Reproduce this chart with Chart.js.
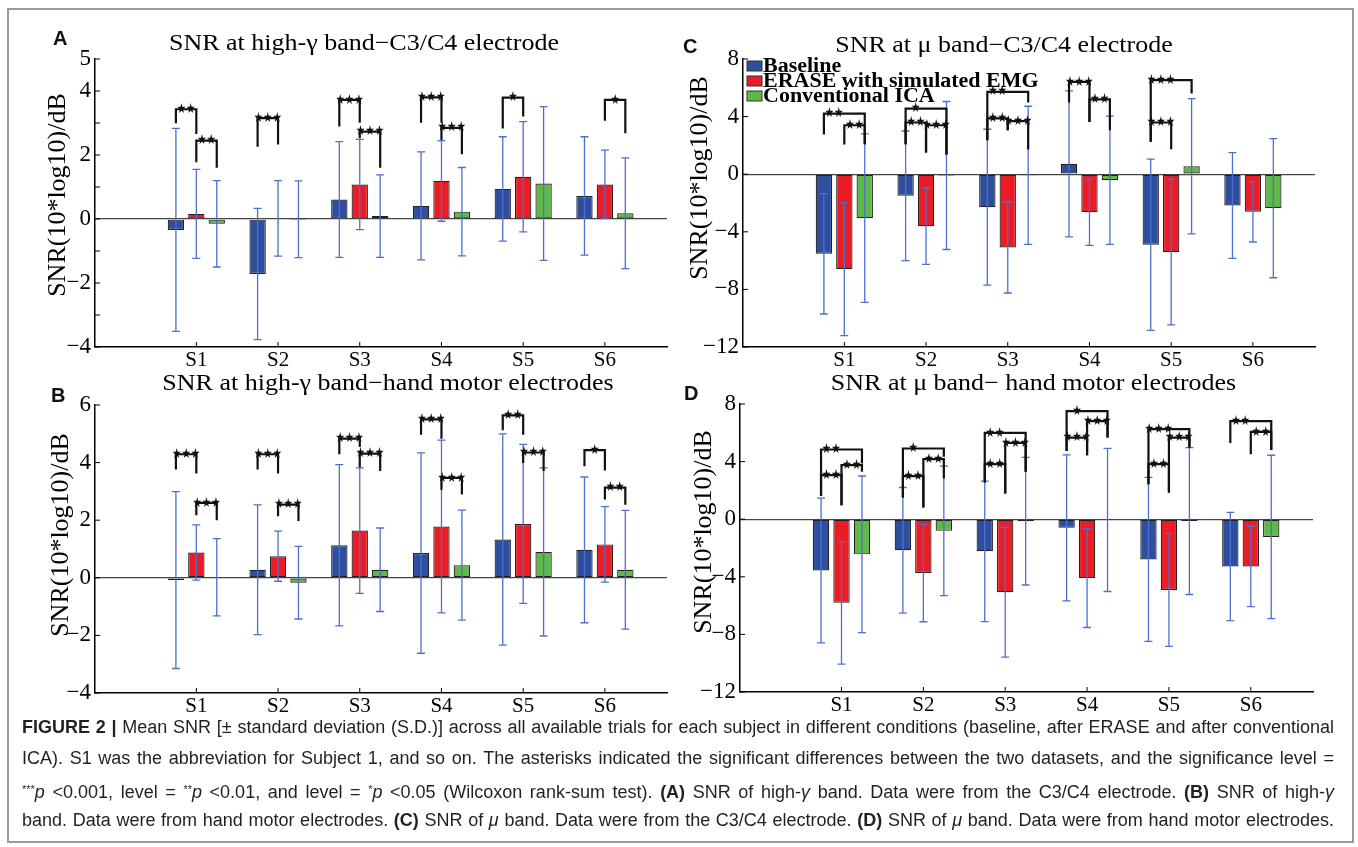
<!DOCTYPE html>
<html>
<head>
<meta charset="utf-8">
<script src="https://cdn.jsdelivr.net/npm/chart.js@4.4.1/dist/chart.umd.min.js"></script>
<style>
body { margin:0; background:#fff; width:1358px; height:847px; position:relative; overflow:hidden; font-family:'Liberation Sans', Arial, sans-serif; }
#frame { position:absolute; left:7px; top:8px; width:1343px; height:831px; border:2px solid #9a9a9a; }
canvas { position:absolute; }
.tag { position:absolute; font:bold 20px 'Liberation Sans', Arial, sans-serif; color:#111; }
#caption { position:absolute; left:22px; top:712px; width:1312px; font-size:18px; color:#231f20; }
#caption div { text-align:justify; text-align-last:justify; white-space:nowrap; height:31px; line-height:31px; }
#caption sup { font-size:11px; vertical-align:5px; }
</style>
</head>
<body>
<div id="frame"></div>
<canvas id="panelA"></canvas>
<canvas id="panelB"></canvas>
<canvas id="panelC"></canvas>
<canvas id="panelD"></canvas>
<div class="tag" style="left:53px;top:27px">A</div>
<div class="tag" style="left:51px;top:384px">B</div>
<div class="tag" style="left:683px;top:35px">C</div>
<div class="tag" style="left:684px;top:382px">D</div>
<div id="caption">
  <div><b>FIGURE 2 |</b> Mean SNR [± standard deviation (S.D.)] across all available trials for each subject in different conditions (baseline, after ERASE and after conventional</div>
  <div>ICA). S1 was the abbreviation for Subject 1, and so on. The asterisks indicated the significant differences between the two datasets, and the significance level =</div>
  <div><sup>***</sup><i>p</i> &lt;0.001, level = <sup>**</sup><i>p</i> &lt;0.01, and level = <sup>*</sup><i>p</i> &lt;0.05 (Wilcoxon rank-sum test). <b>(A)</b> SNR of high-<i>γ</i> band. Data were from the C3/C4 electrode. <b>(B)</b> SNR of high-<i>γ</i></div>
  <div>band. Data were from hand motor electrodes. <b>(C)</b> SNR of <i>μ</i> band. Data were from the C3/C4 electrode. <b>(D)</b> SNR of <i>μ</i> band. Data were from hand motor electrodes.</div>
</div>
<script>
const subjects = ['S1', 'S2', 'S3', 'S4', 'S5', 'S6']
const seriesNames = ['Baseline', 'ERASE with simulated EMG', 'Conventional ICA']
const colors = ['#2e4f9f', '#ec1c24', '#5fb946']

// A: high-gamma, C3/C4 (mean, SD)
const aBase = [-0.34, -1.72, 0.61, 0.41, 0.94, 0.72]
const aBaseSd = [3.17, 2.05, 1.81, 1.69, 1.63, 1.85]
const aErase = [0.16, 0.02, 1.08, 1.19, 1.32, 1.08]
const aEraseSd = [1.39, 1.18, 1.41, 1.26, 1.72, 1.07]
const aIca = [-0.15, -0.01, 0.09, 0.23, 1.11, 0.18]
const aIcaSd = [1.35, 1.2, 1.29, 1.38, 2.4, 1.73]

// B: high-gamma, hand motor
const bBase = [-0.08, 0.28, 1.13, 0.86, 1.33, 0.97]
const bBaseSd = [3.07, 2.25, 2.8, 3.48, 3.67, 2.53]
const bErase = [0.88, 0.75, 1.64, 1.78, 1.87, 1.16]
const bEraseSd = [0.96, 0.87, 2.18, 3.0, 2.76, 1.31]
const bIca = [0.02, -0.17, 0.28, 0.44, 0.9, 0.28]
const bIcaSd = [1.34, 1.26, 1.45, 1.91, 2.92, 2.06]

// C: mu, C3/C4
const cBase = [-5.53, -1.5, -2.29, 0.72, -4.9, -2.17]
const cBaseSd = [4.18, 4.5, 5.41, 5.07, 5.94, 3.67]
const cErase = [-6.59, -3.61, -5.09, -2.64, -5.41, -2.61]
const cEraseSd = [4.62, 2.65, 3.16, 2.3, 5.06, 2.1]
const cIca = [-3.05, -0.09, -0.08, -0.42, 0.55, -2.36]
const cIcaSd = [5.85, 5.14, 4.8, 4.45, 4.7, 4.83]

// D: mu, hand motor
const dBase = [-3.56, -2.16, -2.23, -0.6, -2.79, -3.28]
const dBaseSd = [5.03, 4.36, 4.88, 5.07, 5.7, 3.76]
const dErase = [-5.81, -3.74, -5.07, -4.09, -4.91, -3.28]
const dEraseSd = [4.25, 3.38, 4.51, 3.43, 3.92, 2.79]
const dIca = [-2.44, -0.81, -0.14, -0.05, -0.13, -1.23]
const dIcaSd = [5.44, 4.5, 4.43, 4.97, 5.1, 5.67]

// tick labels shown on the y axes
const aTicks = [5, 4, 2, 0, -2, -4]
const bTicks = [6, 4, 2, 0, -2, -4]
const cTicks = [8, 4, 0, -4, -8, -12]
const dTicks = [8, 4, 0, -4, -8, -12]

// significance brackets: [subject, from bar, to bar, top, left end, right end, stars]
const aSig = [
    [1, 0, 1, 3.43, 2.99, 2.66, 2], [1, 1, 2, 2.45, 1.77, 1.6, 2],
    [2, 0, 1, 3.15, 2.26, 2.33, 3],
    [3, 0, 1, 3.72, 2.89, 3.01, 3], [3, 1, 2, 2.73, 2.52, 1.6, 3],
    [4, 0, 1, 3.8, 3.01, 3.01, 3], [4, 1, 2, 2.85, 2.47, 2.02, 3],
    [5, 0, 1, 3.79, 2.83, 3.2, 1],
    [6, 1, 2, 3.72, 3.07, 2.68, 1]
]
const bSig = [
    [1, 0, 1, 4.29, 3.76, 3.62, 3], [1, 1, 2, 2.6, 2.17, 2.0, 3],
    [2, 0, 1, 4.29, 3.76, 3.62, 3], [2, 1, 2, 2.54, 2.14, 1.97, 3],
    [3, 0, 1, 4.83, 4.29, 4.54, 3], [3, 1, 2, 4.31, 3.83, 3.71, 3],
    [4, 0, 1, 5.5, 4.97, 4.83, 3], [4, 1, 2, 3.47, 3.06, 2.89, 3],
    [5, 0, 1, 5.64, 5.12, 4.97, 2], [5, 1, 2, 4.35, 3.99, 3.71, 3],
    [6, 0, 1, 4.43, 3.87, 3.73, 1], [6, 1, 2, 3.13, 2.72, 2.54, 2]
]
const cSig = [
    [1, 0, 2, 4.21, 2.75, 2.08, 2], [1, 1, 2, 3.4, 2.06, 2.08, 2],
    [2, 0, 2, 4.56, 2.08, 1.37, 1], [2, 0, 1, 3.59, 2.08, 1.51, 2], [2, 1, 2, 3.4, 1.51, 1.37, 3],
    [3, 0, 2, 5.72, 2.36, 4.98, 2], [3, 0, 1, 3.87, 2.36, 3.06, 2], [3, 1, 2, 3.68, 3.06, 1.71, 3],
    [4, 0, 1, 6.41, 4.98, 3.63, 3], [4, 1, 2, 5.19, 3.63, 3.06, 2],
    [5, 0, 2, 6.53, 2.25, 5.6, 3], [5, 0, 1, 3.59, 2.25, 1.73, 3]
]
const dSig = [
    [1, 0, 2, 4.84, 1.62, 3.87, 2], [1, 0, 1, 3.06, 1.62, 0.97, 2], [1, 1, 2, 3.75, 0.97, 3.29, 2],
    [2, 0, 2, 4.91, 1.5, 4.33, 1], [2, 0, 1, 2.99, 1.5, 0.81, 2], [2, 1, 2, 4.17, 0.81, 2.82, 2],
    [3, 0, 2, 5.99, 2.55, 3.29, 2], [3, 0, 1, 3.82, 2.55, 1.78, 2], [3, 1, 2, 5.3, 1.78, 3.29, 3],
    [4, 0, 2, 7.5, 4.74, 5.67, 1], [4, 0, 1, 5.67, 4.74, 4.44, 3], [4, 1, 2, 6.81, 4.44, 5.67, 3],
    [5, 0, 2, 6.25, 2.43, 4.98, 3], [5, 0, 1, 3.82, 2.43, 1.85, 2], [5, 1, 2, 5.67, 1.85, 4.98, 3],
    [6, 0, 2, 6.81, 5.3, 4.81, 2], [6, 1, 2, 6.06, 4.51, 4.81, 2]
]

function stretchText(ctx, t, x, y, sx) {
    ctx.save()
    ctx.translate(x, y)
    ctx.scale(sx, 1)
    ctx.fillText(t, 0, 0)
    ctx.restore()
}

// error bars, brackets, inner ticks, titles, legend
const decor = {
    id: 'decor',
    afterDatasetsDraw(chart, args, o) {
        let ctx = chart.ctx
        let y = chart.scales.y
        ctx.save()
        ctx.strokeStyle = '#4d70d0'
        ctx.lineWidth = 1.3
        chart.data.datasets.forEach((ds, k) => {
            chart.getDatasetMeta(k).data.forEach((bar, i) => {
                let m = ds.data[i].y, s = ds.sd[i]
                let y1 = y.getPixelForValue(m + s), y2 = y.getPixelForValue(m - s)
                ctx.beginPath()
                ctx.moveTo(bar.x, y1); ctx.lineTo(bar.x, y2)
                ctx.moveTo(bar.x - 4, y1); ctx.lineTo(bar.x + 4, y1)
                ctx.moveTo(bar.x - 4, y2); ctx.lineTo(bar.x + 4, y2)
                ctx.stroke()
            })
        })

        ctx.strokeStyle = '#111'
        ctx.fillStyle = '#111'
        ctx.lineWidth = 2.2
        ctx.font = '14px "DejaVu Sans"'
        ctx.textAlign = 'center'
        ctx.textBaseline = 'middle'
        o.brackets.forEach(([s, a, b, top, ya, yb, n]) => {
            let xa = chart.getDatasetMeta(a).data[s - 1].x
            let xb = chart.getDatasetMeta(b).data[s - 1].x
            let chunk = chart.getDatasetMeta(1).data[s - 1].x - chart.getDatasetMeta(0).data[s - 1].x
            let yt = y.getPixelForValue(top)
            ctx.beginPath()
            ctx.moveTo(xa, y.getPixelForValue(ya))
            ctx.lineTo(xa, yt)
            ctx.lineTo(xb, yt)
            ctx.lineTo(xb, y.getPixelForValue(yb))
            ctx.stroke()
            stretchText(ctx, '★'.repeat(n), xa + chunk / 2, yt, 0.75)
        })
        ctx.restore()
    },
    afterDraw(chart, args, o) {
        let ctx = chart.ctx
        let area = chart.chartArea
        let x = chart.scales.x, y = chart.scales.y
        ctx.save()
        ctx.strokeStyle = '#000'
        ctx.lineWidth = 1
        ctx.beginPath()
        y.ticks.forEach(t => {
            let p = y.getPixelForValue(t.value)
            ctx.moveTo(area.left, p); ctx.lineTo(area.left + 5, p)
        })
        x.ticks.forEach(t => {
            let p = x.getPixelForValue(t.value)
            ctx.moveTo(p, area.bottom); ctx.lineTo(p, area.bottom - 5)
        })
        ctx.stroke()

        ctx.fillStyle = '#000'
        ctx.font = '23px "Liberation Serif"'
        ctx.textAlign = 'center'
        ctx.textBaseline = 'alphabetic'
        stretchText(ctx, o.title, (area.left + area.right) / 2 + o.tdx, area.top + o.tdy, 1.13)

        ctx.save()
        ctx.font = '26px "Liberation Serif"'
        ctx.textBaseline = 'middle'
        ctx.translate(area.left + o.ydx, (area.top + area.bottom) / 2 + o.ydy)
        ctx.rotate(-Math.PI / 2)
        ctx.fillText('SNR(10*log10)/dB', 0, 0)
        ctx.restore()

        if (o.legend) {
            ctx.font = 'bold 20px "Liberation Serif"'
            ctx.textAlign = 'left'
            chart.data.datasets.forEach((ds, k) => {
                let base = area.top + 13 + k * 15
                ctx.fillStyle = ds.backgroundColor
                ctx.fillRect(area.left + 4, base - 11, 15, 10)
                ctx.strokeStyle = '#333'
                ctx.lineWidth = 1
                ctx.strokeRect(area.left + 4, base - 11, 15, 10)
                ctx.fillStyle = '#000'
                stretchText(ctx, ds.label, area.left + 20, base, 1.1)
            })
        }
        ctx.restore()
    }
}

function makePanel(id, g, yMin, yMax, step, yLabels, series, opts) {
    let cv = document.getElementById(id)
    let padL = 100, padT = Math.min(60, g.top), padR = 12, padB = 36
    cv.width = g.right - g.left + padL + padR
    cv.height = g.bottom - g.top + padT + padB
    cv.style.left = (g.left - padL) + 'px'
    cv.style.top = (g.top - padT) + 'px'

    new Chart(cv, {
        type: 'bar',
        data: {
            datasets: series.map((s, k) => ({
                label: seriesNames[k],
                data: s[0].map((v, i) => ({ x: i + 1, y: v })),
                sd: s[1],
                backgroundColor: colors[k],
                borderColor: '#222',
                borderWidth: 1.2,
                borderSkipped: false,
                categoryPercentage: 0.75,
                barPercentage: 0.8
            }))
        },
        options: {
            responsive: false,
            animation: false,
            devicePixelRatio: 1,
            layout: { padding: { left: 0, top: padT, right: padR, bottom: 0 } },
            plugins: {
                legend: { display: false },
                tooltip: { enabled: false },
                decor: opts
            },
            scales: {
                x: {
                    type: 'linear',
                    offset: false,
                    min: -0.24,
                    max: 6.76,
                    afterFit: s => { s.height = padB },
                    afterBuildTicks: s => { s.ticks = subjects.map((_, i) => ({ value: i + 1 })) },
                    ticks: {
                        callback: v => subjects[v - 1],
                        font: { family: 'Liberation Serif', size: 21 },
                        color: '#000',
                        padding: 1,
                        maxRotation: 0,
                        autoSkip: false
                    },
                    grid: { display: false, drawTicks: false },
                    border: { color: '#000', width: 1.5 }
                },
                y: {
                    min: yMin,
                    max: yMax,
                    afterFit: s => { s.width = padL },
                    ticks: {
                        stepSize: step,
                        callback: v => yLabels.includes(v) ? String(v).replace('-', '−') : '',
                        font: { family: 'Liberation Serif', size: 23 },
                        color: '#000',
                        padding: 4
                    },
                    grid: {
                        drawTicks: false,
                        color: c => (c.tick && c.tick.value === 0) ? '#444' : 'rgba(0,0,0,0)',
                        lineWidth: 1.3
                    },
                    border: { color: '#000', width: 1.5 }
                }
            }
        },
        plugins: [decor]
    })
}

makePanel('panelA', { left: 95, top: 59, right: 667, bottom: 347 }, -4, 5, 1, aTicks,
    [[aBase, aBaseSd], [aErase, aEraseSd], [aIca, aIcaSd]],
    { title: 'SNR at high-γ band−C3/C4 electrode', tdx: -17, tdy: -9, ydx: -37, ydy: -8, brackets: aSig, legend: false })

makePanel('panelB', { left: 95, top: 405, right: 667, bottom: 693 }, -4, 6, 1, bTicks,
    [[bBase, bBaseSd], [bErase, bEraseSd], [bIca, bIcaSd]],
    { title: 'SNR at high-γ band−hand motor electrodes', tdx: 7, tdy: -15, ydx: -34, ydy: -14, brackets: bSig, legend: false })

makePanel('panelC', { left: 743, top: 59, right: 1315, bottom: 347 }, -12, 8, 2, cTicks,
    [[cBase, cBaseSd], [cErase, cEraseSd], [cIca, cIcaSd]],
    { title: 'SNR at μ band−C3/C4 electrode', tdx: -25, tdy: -7, ydx: -43, ydy: -25, brackets: cSig, legend: true })

makePanel('panelD', { left: 740, top: 404, right: 1313, bottom: 692 }, -12, 8, 2, dTicks,
    [[dBase, dBaseSd], [dErase, dEraseSd], [dIca, dIcaSd]],
    { title: 'SNR at μ band− hand motor electrodes', tdx: 7, tdy: -14, ydx: -36, ydy: -16, brackets: dSig, legend: false })
</script>
</body>
</html>
